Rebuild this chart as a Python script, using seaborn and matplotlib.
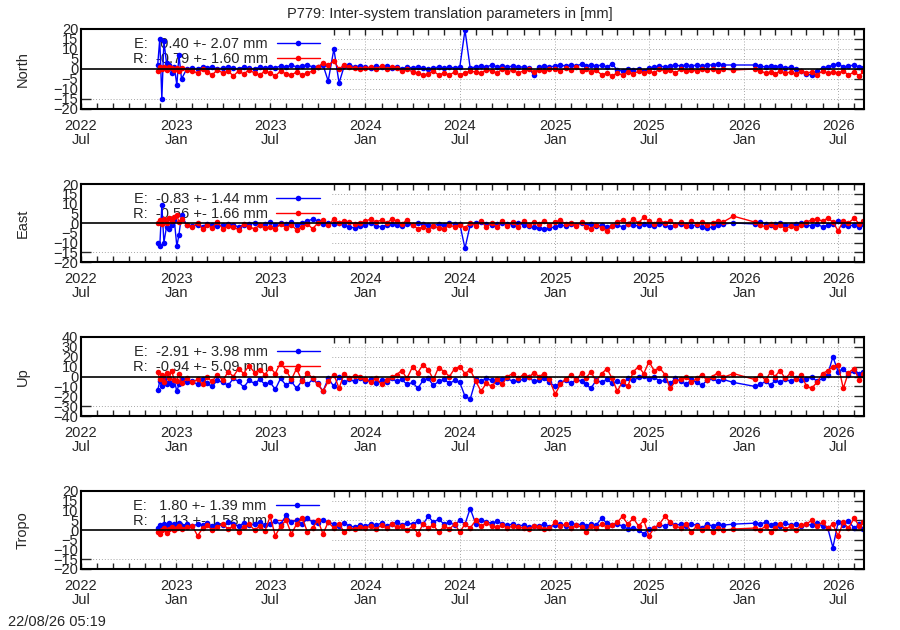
import numpy as np
import pandas as pd
import seaborn as sns
import matplotlib.pyplot as plt
import matplotlib.dates as mdates
from matplotlib.lines import Line2D
from matplotlib.patches import Rectangle

# sample dates (read roughly every 10 days off the picture, denser at the start)
dates = [
    "2022-11-26", "2022-11-30", "2022-12-04", "2022-12-08", "2022-12-13", "2022-12-18", "2022-12-23", "2022-12-28",
    "2023-01-02", "2023-01-06", "2023-01-11", "2023-01-21",
    "2023-02-01", "2023-02-11", "2023-02-21", "2023-03-01", "2023-03-11", "2023-03-21",
    "2023-04-01", "2023-04-11", "2023-04-21", "2023-05-01", "2023-05-11", "2023-05-21",
    "2023-06-01", "2023-06-11", "2023-06-21",
    "2023-07-01", "2023-07-11", "2023-07-21", "2023-08-01", "2023-08-11", "2023-08-21",
    "2023-09-01", "2023-09-11", "2023-09-21",
    "2023-10-01", "2023-10-11", "2023-10-21", "2023-11-01", "2023-11-11", "2023-11-21",
    "2023-12-01", "2023-12-11", "2023-12-21",
    "2024-01-01", "2024-01-11", "2024-01-21", "2024-02-01", "2024-02-11", "2024-02-21",
    "2024-03-01", "2024-03-11", "2024-03-21", "2024-04-01", "2024-04-11", "2024-04-21",
    "2024-05-01", "2024-05-11", "2024-05-21", "2024-06-01", "2024-06-11", "2024-06-21",
    "2024-07-01", "2024-07-11", "2024-07-21", "2024-08-01", "2024-08-11", "2024-08-21",
    "2024-09-01", "2024-09-11", "2024-09-21", "2024-10-01", "2024-10-11", "2024-10-21",
    "2024-11-01", "2024-11-11", "2024-11-21", "2024-12-01", "2024-12-11", "2024-12-21",
    "2025-01-01", "2025-01-11", "2025-01-21", "2025-02-01", "2025-02-11", "2025-02-21",
    "2025-03-01", "2025-03-11", "2025-03-21", "2025-04-01", "2025-04-11", "2025-04-21",
    "2025-05-01", "2025-05-11", "2025-05-21", "2025-06-01", "2025-06-11", "2025-06-21",
    "2025-07-01", "2025-07-11", "2025-07-21", "2025-08-01", "2025-08-11", "2025-08-21",
    "2025-09-01", "2025-09-11", "2025-09-21", "2025-10-01", "2025-10-11", "2025-10-21",
    "2025-11-01", "2025-11-11", "2025-11-21", "2025-12-11",
    "2026-01-21", "2026-02-01", "2026-02-11", "2026-02-21", "2026-03-01", "2026-03-11", "2026-03-21",
    "2026-04-01", "2026-04-11", "2026-04-21",
    "2026-05-01", "2026-05-11", "2026-05-21", "2026-06-01", "2026-06-11", "2026-06-21",
    "2026-07-01", "2026-07-11", "2026-07-21", "2026-08-01", "2026-08-11", "2026-08-19",
]

north_e = [
    2, 15, -15, 14, 3, 2, -2, 1,
    -8, 7, -5, 0,
    0.5, 0, 1, 0.5, 1, 0, 0.5, 1, 0.5, 0, 1, 0.5, 0, 1, 0.5,
    1, 0.5, 1.5, 1, 2, 1, 1.5, 2, 1,
    1, 2, -6, 10, -7, 1.5, 2, 1, 1.5,
    1, 0.5, 1.5, 1, 1.5, 0.5, 1, 0, 1, 0.5, 1, 0.5,
    0, 0.5, 1, 0.5, 1, 0.5, 1, 19.5, 0.5, 1, 1.5, 1,
    2, 1, 1.5, 1, 1.5, 1, 1, 0.5, -3, 1, 1.5, 1,
    1.5, 2, 1.5, 2, 1.5, 2.5, 1.5, 2, 1.5, 2, 1, 2.5,
    -0.5, -1, 0, -0.5, 0, -1, 0.5, 1, 1.5, 1, 1.5, 2,
    1.5, 2, 1.5, 2, 1.5, 2, 2, 2.5, 2, 2,
    2, 1.5, 1, 1.5, 1, 1.5, 0.5, 1, 0, -1,
    -2.5, -3, -1, 0.5, 1, 2, 2.5, 1, 1.5, 2, 1, 0.5,
]
north_r = [
    -1, 1, 0, 1, -0.5, 1, 0.5, -0.5,
    0.5, -1, 0.5, -0.5,
    -1, -2, 0, -1.5, -3, -0.5, -2, -1, -3.5, -1, -2.5, -0.5, -2, -3, -1,
    -2, -3.5, -1, -2.5, -3, -1.5, -3, -2, -1,
    1, 3, 2, 4, 0, 2, 1, 0.5, 0,
    0.5, 1, 0, 1.5, 0, 1, 0.5, -1, 0, -1.5, -2, -3,
    -2.5, -1, -3, -2, -3, -1.5, -3, -2, -1, -1.5, -2, -0.5,
    -1, -2, 0, -1.5, -0.5, -2, -1, 0, -1.5, -0.5, -1, 0,
    0, -1, 0.5, -0.5, 1, -1, 0, -1.5, -0.5, -3, -2, -3.5,
    -2, -3, -1.5, -2.5, -1, -2, -1, -2, 0, -1, -0.5, -2,
    0, -1, -0.5, -1, 0, -0.5, 0, -1, 0, -0.5,
    0, -1, -2, -1.5, -2.5, -1, -2, -1.5, -2.5, -1,
    -2, -1.5, -3, -1, -2, -1.5, -2, -1, -3, -1.5, -3.5, -1,
]

east_e = [
    -10, -12, 9, -10, -2, -3, -1, 1.5,
    -12, -6, 4, -1,
    -1.5, -1, -2, -0.5, -1, -1.5, -1, -0.5, -1, -2, -1, -0.5, 0, -1, -0.5,
    0.5, -1, 0, -0.5, 0.5, -1, 0, 1, 2,
    1, -0.5, 0, -0.5, 0, -1, -2, -2.5, -1.5,
    -1, 0, -1.5, -2, -1, -0.5, -1, -1.5, -0.5, -1, 0, -0.5,
    -1, -1.5, -0.5, -1, 0, -0.5, -0.5, -13, -1, 0, 0.5, -0.5,
    -1, -0.5, 0, -0.5, -1, 0, -1, -1.5, -2, -2.5, -3, -2.5,
    -2, -1, -1.5, -0.5, -1, 0, -1, -0.5, -1.5, -1, -2, -1.5,
    -1, -2, -0.5, -1, -1.5, -0.5, -1, -1.5, -0.5, -1, -2, -1,
    -0.5, -1, -1.5, -1, -2, -2.5, -2, -1, -0.5, 0,
    -0.5, 0.5, -0.5, -1, -0.5, 0, -1, -1, -0.5, 0,
    -1, -1.5, -0.5, -2, -1, -0.5, 1, -1, -1.5, -1, -2, -0.5,
]
east_r = [
    0, 1.5, -0.5, 2, 0, 2.5, 1, 3,
    4, 0.5, 2, -1,
    -2, 0, -3, -1, -2.5, 0.5, -3, -1.5, -2, -3.5, -0.5, -2, -3, -1, -2.5,
    -2, -3, -0.5, -2.5, -1, -3.5, -2, -0.5, -3,
    0, 1.5, -1, 2, 0, 1, 0.5, -0.5, 0,
    1, 2, 0.5, 1.5, 0, 2, 1, -0.5, 1.5, -1, -3, -2,
    -3.5, -1.5, -2.5, -3, -1, -2, -1, -2.5, 0, -1.5, 1, -2,
    0, -2, 1, -1.5, 0.5, -2, 1, -1, 0.5, -0.5, 1, -1,
    0.5, 1.5, -0.5, 0, -1.5, 0.5, -2, -3, -1, -2.5, -4, -1.5,
    0.5, 1.5, -0.5, 2, 0, 3, 1, -0.5, 1.5, 0, 1, -1,
    0.5, -1.5, 1, -0.5, 0.5, -1, 0, 1, 0.5, 3.5,
    0.5, -1, -2, -0.5, -2, -1, -3, -1.5, -2.5, -1,
    0.5, 1.5, 2, 1, 2.5, 0.5, -4, 1, 0, 2.5, -0.5, 1,
]

up_e = [
    -14, -5, -10, -3, -8, -6, -9, -4,
    -15, -8, -3, -6,
    -5, -8, -3, -7, -10, -4, -6, -9, -2, -5, -11, -4, -7, -3, -8,
    -6, -13, -2, -9, -5, -12, -4, -8, -3,
    -7, -15, -2, -10, 0, -6, -3, -5, -2,
    -5, -3, -7, -4, -6, -2, -5, -3, -8, -6, -12, -4,
    -2, -9, -5, -3, -7, -4, -6, -20, -23, -3, -5, -2,
    -4, -6, -3, -2, -5, -4, -3, -1, -5, -4, -2, -6,
    -10, -6, -4, -7, -3, -5, -8, -12, -4, -6, -3, -7,
    -5, -8, -2, -4, -1, 1, -3, 0, -5, -4, -7, -2,
    -5, -8, -3, -6, -9, -4, -2, -5, -3, -6,
    -10, -8, -5, -9, -4, -6, -3, -5, -2, -4,
    -3, 0, -5, -2, 2, 20, 5, 8, 2, 6, 3, 5,
]
up_r = [
    5, -3, 2, -6, 4, -2, 6, -4,
    -5, 3, -7, -2,
    -6, -3, -8, -1, -5, 2, -4, 5, 0, 8, 3, 11, 4, 7, 2,
    9, 3, 14, 6, -3, 8, -5, 4, -2,
    -8, -15, -5, 2, -12, 3, -2, 1, 0,
    -3, -6, -2, -8, -4, -1, 2, 6, -2, 10, 4, 12,
    7, -3, 9, 5, 0, 8, 10, 3, 7, -5, -15, -7,
    -10, -3, -8, 0, 3, -2, 2, -1, 4, 0, 3, -3,
    -18, -8, -3, 2, -4, 4, -2, 5, -5, 3, 8, -2,
    -15, -5, -10, 5, 10, 3, 15, 6, 9, 2, -12, -5,
    -3, 0, -6, -2, 2, -4, 0, 4, -1, 3,
    -3, 2, -4, 5, 0, 6, -2, 4, -3, 2,
    -10, -12, -6, 3, 6, 10, 12, -12, 4, 8, -4, 3,
]

tropo_e = [
    1, 2.5, 1.5, 3, 2, 3.5, 2, 3,
    2.5, 3.5, 2, 3,
    2, 3, 2.5, 3.5, 2, 3, 2.5, 4, 3, 2, 3.5, 2.5, 3, 4, 2.5,
    3, 4.5, 3, 7.5, 4, 5, 3, 6, 4,
    3.5, 5, 4, 3, 2, 3.5, 2, 1.5, 2.5,
    2, 3, 2.5, 3.5, 2, 3, 4, 2.5, 3.5, 3, 4.5, 3,
    7, 4, 5.5, 3, 4, 2.5, 5, 3, 11, 3, 5, 4,
    3.5, 4.5, 3, 2.5, 3, 2, 2.5, 1.5, 2, 2, 3, 1.5,
    2.5, 3, 2, 3.5, 2.5, 3, 2, 3, 2.5, 6, 3.5, 2.5,
    3, 2, 0.5, 1, 0, -2, 0.5, 1, 2.5, 2, 3.5, 2.5,
    3, 2, 3, 2.5, 1, 3, 2, 3, 2.5, 3,
    3.5, 3, 4, 2.5, 3, 2, 3.5, 2.5, 3, 2,
    3, 2.5, 3.5, 2, 1, -9, 4, 2.5, 4.5, 1, 3, 0.5,
]
tropo_r = [
    -1, -2, 0, 1, -1.5, 0.5, 1.5, 0,
    1, 2, 0.5, 1.5,
    2, -3, 1, 2.5, 0, 1.5, 3, 0.5, 2, -1, 1.5, 3, 0, 2, -0.5,
    7, -3, 2, 5, -2, 3, 6, -1, 1,
    5, -2, 4, 1, 3, -1, 1, 0.5, 1.5,
    1, 2, 0.5, 2.5, 1, 3, 1.5, 2, 0, 2, -2, 3,
    1, 2.5, -1, 2, 0.5, 3, -1, 3, 1, 5, 2, 3.5,
    2, 1.5, 2.5, 1, 2, 1.5, 1, 0.5, 2, 1.5, 0.5, 1,
    4, 2, 3, 1, 2.5, 1.5, -1, 2, 1, 3, 1.5, 2.5,
    4, 7, 3, 6, 2, 5, -3, 1, 3, 7, 4, 2,
    1, 3, -1, 2, 0, 1.5, -1, 1, 0, 0.5,
    1, 0, 2, -1, 1, 3, 0.5, 2, 0, 2.5,
    3, 5, 2, 4, 1, 3, -3, 4, 1, 6, 2, 4,
]

panel_names = ["North", "East", "Up", "Tropo"]
e_mean = [0.40, -0.83, -2.91, 1.80]
e_std = [2.07, 1.44, 3.98, 1.39]
r_mean = [-0.79, -0.56, -0.94, 1.13]
r_std = [1.60, 1.66, 5.09, 1.58]
e_series = [north_e, east_e, up_e, tropo_e]
r_series = [north_r, east_r, up_r, tropo_r]
ylims = [20, 20, 40, 20]
ysteps = [5, 5, 10, 5]

sns.set_style("white")
plt.rcParams['font.family'] = ['Liberation Sans', 'DejaVu Sans']
plt.rcParams['font.size'] = 10.5

t = pd.to_datetime(dates)

fig = plt.figure(figsize=(9, 6.3), dpi=100)
tops = [29, 184, 337, 491]
bottoms = [109, 262, 416, 569]
ms = 4

for i, name in enumerate(panel_names):
    ax = fig.add_axes([81 / 900, 1 - bottoms[i] / 630, 783 / 900, (bottoms[i] - tops[i]) / 630])
    df = pd.DataFrame({"date": t, "E": e_series[i], "R": r_series[i]})

    sns.lineplot(data=df, x="date", y="E", color="blue", marker="o", markersize=ms,
                 markeredgewidth=0, linewidth=1.0, estimator=None, sort=False, ax=ax, zorder=2)
    sns.lineplot(data=df, x="date", y="R", color="red", marker="o", markersize=ms,
                 markeredgewidth=0, linewidth=1.0, estimator=None, sort=False, ax=ax, zorder=2.2)
    ax.axhline(0, color="black", lw=1.2, zorder=3)

    lim = ylims[i]
    ax.set_xlim(pd.Timestamp("2022-07-01"), pd.Timestamp("2026-08-20"))
    ax.set_ylim(-lim, lim)
    yt = np.arange(-lim, lim + 1, ysteps[i])
    ax.set_yticks(yt)
    ax.xaxis.set_major_locator(mdates.MonthLocator(bymonth=[1, 7]))
    ax.xaxis.set_major_formatter(mdates.DateFormatter("%Y\n%b"))
    ax.xaxis.set_minor_locator(mdates.MonthLocator())
    ax.tick_params(axis="x", which="both", direction="in", length=4, width=1,
                   top=True, bottom=True, pad=7, labelsize=10.5)
    ax.tick_params(axis="y", which="major", direction="in", length=7, width=1,
                   left=True, right=True, pad=2, labelsize=10.5)
    plt.setp(ax.get_xticklabels(), linespacing=1.0)

    # dotted grid, kept under the opaque key box
    for y in yt[1:-1]:
        ax.axhline(y, color="#a8a8a8", lw=0.7, ls=(0, (1, 2)), zorder=0.5)
    for x in ax.get_xticks()[1:]:
        ax.axvline(x, color="#a8a8a8", lw=0.7, ls=(0, (1, 2)), zorder=0.5)
    ax.add_patch(Rectangle((0, 0.14), 0.32, 0.86, transform=ax.transAxes,
                           facecolor="white", edgecolor="none", zorder=1))

    for s in ax.spines.values():
        s.set_linewidth(1.5)
        s.set_color("black")

    ax.set_xlabel("")
    ax.set_ylabel(name, fontsize=10.5)
    ax.yaxis.set_label_coords(-0.065, 0.5)

    handles = [Line2D([], [], color="blue", marker="o", markersize=ms, markeredgewidth=0, lw=1.0),
               Line2D([], [], color="red", marker="o", markersize=ms, markeredgewidth=0, lw=1.0)]
    labels = [f"E: {e_mean[i]:6.2f} +- {e_std[i]:4.2f} mm",
              f"R: {r_mean[i]:6.2f} +- {r_std[i]:4.2f} mm"]
    leg = ax.legend(handles, labels, loc="upper left", bbox_to_anchor=(0.066, 0.9),
                    frameon=False, markerfirst=False, handlelength=3.0, handletextpad=0.6,
                    labelspacing=0.1, borderpad=0, borderaxespad=0, fontsize=10.5)
    leg.set_zorder(1.5)

fig.text(0.5, 1 - 14 / 630, "P779: Inter-system translation parameters in [mm]",
         ha="center", va="center", fontsize=10.5)
fig.text(8 / 900, 1 - 622 / 630, "22/08/26 05:19", ha="left", va="center", fontsize=10.5)

fig.savefig("out.png", dpi=100)
